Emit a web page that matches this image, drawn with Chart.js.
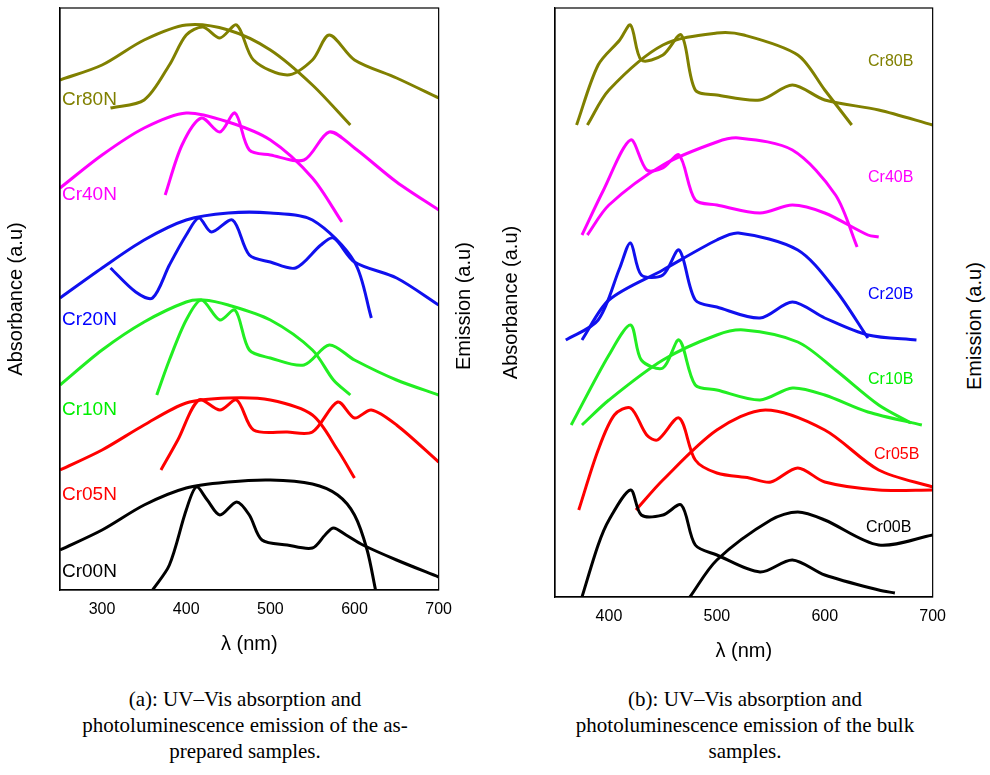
<!DOCTYPE html>
<html>
<head>
<meta charset="utf-8">
<script src="https://cdn.jsdelivr.net/npm/chart.js@4"></script>
<style>
  body { margin: 0; background: #fff; width: 990px; height: 775px; position: relative; font-family: Arial, "Liberation Sans", sans-serif; }
  canvas { position: absolute; }
  .lbl { position: absolute; font-size: 19px; }
  .lblb { position: absolute; font-size: 16px; }
  .ytitle { position: absolute; font-size: 20px; transform: rotate(-90deg); transform-origin: left top; white-space: nowrap; }
  .cap { position: absolute; font-family: "Liberation Serif", "Times New Roman", serif; font-size: 21px; text-align: center; line-height: 26px; }
</style>
</head>
<body>
<div style="position:absolute;left:0;top:0;width:456px;height:660px"><canvas id="left"></canvas></div>
<div style="position:absolute;left:495px;top:0;width:455px;height:667px"><canvas id="right"></canvas></div>

<div class="lbl" style="left:62px;top:88px;color:#808000">Cr80N</div>
<div class="lbl" style="left:62px;top:183px;color:#ff00ff">Cr40N</div>
<div class="lbl" style="left:62px;top:308px;color:#0000ff">Cr20N</div>
<div class="lbl" style="left:62px;top:398px;color:#00ee00">Cr10N</div>
<div class="lbl" style="left:62px;top:483px;color:#ff0000">Cr05N</div>
<div class="lbl" style="left:62px;top:560px;color:#000">Cr00N</div>

<div class="lblb" style="left:868px;top:52px;color:#808000">Cr80B</div>
<div class="lblb" style="left:868px;top:168px;color:#ff00ff">Cr40B</div>
<div class="lblb" style="left:868px;top:285px;color:#0000ff">Cr20B</div>
<div class="lblb" style="left:868px;top:370px;color:#00ee00">Cr10B</div>
<div class="lblb" style="left:874px;top:445px;color:#ff0000">Cr05B</div>
<div class="lblb" style="left:866px;top:518px;color:#000">Cr00B</div>

<div class="ytitle" style="left:452px;top:370px">Emission (a.u)</div>
<div class="ytitle" style="left:963px;top:390px">Emission (a.u)</div>

<div class="cap" style="left:20px;top:686px;width:450px">(a): UV–Vis absorption and<br>photoluminescence emission of the as-<br>prepared samples.</div>
<div class="cap" style="left:520px;top:686px;width:450px">(b): UV–Vis absorption and<br>photoluminescence emission of the bulk<br>samples.</div>

<script>
// ---- panel (a): as-prepared, [nm, a.u.] ----
const cr00nAbs = [[250,40],[300,60],[350,85],[400,102],[450,108],[500,110],[550,106],[580,95],[600,75],[615,40],[625,0]];
const cr00nEm  = [[360,0],[380,25],[400,80],[412,103],[425,90],[440,75],[460,88],[475,75],[490,50],[520,45],[550,42],[565,55],[575,62],[590,55],[610,45],[650,30],[700,13]];
const cr05nAbs = [[250,120],[300,140],[350,165],[400,187],[450,192],[500,190],[550,175],[580,140],[600,112]];
const cr05nEm  = [[370,120],[390,150],[415,190],[440,180],[460,190],[480,160],[520,158],[550,158],[580,188],[600,172],[620,180],[650,165],[700,128]];
const cr10nAbs = [[250,205],[300,240],[350,268],[400,288],[420,290],[450,285],[500,270],[550,240],[575,210],[595,195]];
const cr10nEm  = [[365,195],[380,230],[400,270],[418,290],[440,270],[458,280],[475,240],[500,232],[540,225],[570,245],[600,230],[650,210],[700,195]];
const cr20nAbs = [[250,292],[300,322],[350,350],[400,370],[450,377],[500,377],[550,370],[600,328],[620,272]];
const cr20nEm  = [[310,322],[340,298],[360,292],[380,325],[400,355],[415,372],[430,358],[455,370],[475,335],[500,328],[530,322],[560,345],[575,352],[600,328],[650,312],[700,285]];
const cr40nAbs = [[250,402],[300,435],[350,462],[400,477],[450,468],[500,450],[550,412],[585,368]];
const cr40nEm  = [[375,395],[395,445],[418,472],[440,458],[458,477],[475,440],[500,435],[540,430],[570,458],[600,442],[650,408],[700,380]];
const cr80nAbs = [[250,510],[300,525],[350,550],[400,565],[450,560],[500,540],[550,505],[595,465]];
const cr80nEm  = [[310,482],[350,490],[380,525],[400,555],[420,563],[440,552],[460,565],[480,530],[520,515],[550,530],[570,555],[600,530],[650,512],[700,492]];

// ---- panel (b): bulk, [nm, a.u.] ----
const cr00bAbs = [[375,0],[390,52],[400,77],[420,107],[430,82],[450,82],[467,92],[480,52],[500,42],[540,25],[570,37],[600,22],[650,7],[665,4]];
const cr00bEm  = [[475,0],[500,37],[550,77],[575,85],[600,77],[650,52],[700,62]];
const cr05bAbs = [[372,87],[390,147],[405,182],[420,189],[435,162],[445,157],[465,179],[480,137],[500,124],[530,119],[550,115],[575,129],[600,115],[650,107],[700,107]];
const cr05bEm  = [[425,87],[450,117],[500,167],[545,187],[600,167],[650,127],[700,110]];
const cr10bAbs = [[365,172],[400,242],[420,272],[430,237],[450,229],[465,257],[480,212],[500,207],[540,197],[570,209],[600,202],[640,185],[690,172]];
const cr10bEm  = [[375,172],[400,197],[450,237],[500,262],[525,267],[575,255],[610,227],[650,192],[680,174]];
const cr20bAbs = [[360,257],[390,277],[410,329],[420,354],[430,322],[450,322],[465,347],[480,297],[500,290],[540,279],[570,295],[600,279],[640,262],[685,257]];
const cr20bEm  = [[375,257],[400,297],[450,327],[500,357],[520,364],[575,347],[610,307],[640,259]];
const cr40bAbs = [[375,362],[395,407],[420,457],[435,427],[450,429],[465,442],[480,397],[500,392],[540,384],[570,392],[600,384],[640,362],[650,360]];
const cr40bEm  = [[380,362],[400,392],[450,432],[500,455],[520,459],[570,447],[610,402],[630,350]];
const cr80bAbs = [[370,472],[390,532],[410,557],[420,572],[430,537],[450,542],[467,562],[480,507],[500,502],[540,497],[570,512],[600,497],[650,487],[700,472]];
const cr80bEm  = [[380,472],[400,507],[450,552],[500,564],[525,562],[575,542],[600,507],[625,472]];

const colors = { c00: '#000000', c05: '#ff0000', c10: '#22ee22', c20: '#1010ee', c40: '#ff00ff', c80: '#808000' };

const ds = (pts, color) => ({
    data: pts.map(p => ({ x: p[0], y: p[1] })),
    borderColor: color, borderWidth: 3, pointRadius: 0, tension: 0.3, fill: false
});

const frame = {
    id: 'frame',
    afterDraw(chart) {
        const { ctx, chartArea: a } = chart;
        ctx.save();
        ctx.strokeStyle = '#000';
        ctx.lineWidth = 1.2;
        ctx.strokeRect(a.left, a.top, a.right - a.left, a.bottom - a.top);
        ctx.restore();
    }
};

const makeChart = (id, sets, xmin, xticks, ymax, yTitle) => new Chart(document.getElementById(id), {
    type: 'line',
    data: { datasets: sets },
    options: {
        responsive: true, maintainAspectRatio: false, animation: false,
        layout: { padding: { top: 8, right: 0, left: 0, bottom: 0 } },
        plugins: { legend: { display: false }, tooltip: { enabled: false } },
        scales: {
            x: {
                type: 'linear', min: xmin, max: 700,
                afterBuildTicks: s => { s.ticks = xticks.map(v => ({ value: v })); },
                afterFit: s => { s.height = 70; },
                grid: { display: false, drawTicks: true, tickLength: 6, color: '#000' },
                border: { color: '#000', width: 1.2 },
                ticks: { color: '#000', font: { size: 16, family: 'Arial' }, padding: 4 },
                title: { display: true, text: 'λ (nm)', color: '#000', font: { size: 20, family: 'Arial' }, padding: { top: 6 } }
            },
            y: {
                type: 'linear', min: 0, max: ymax,
                afterFit: s => { s.width = 60; },
                grid: { display: false },
                border: { color: '#000', width: 1.2 },
                ticks: { display: false },
                title: { display: true, text: yTitle, color: '#000', font: { size: 20, family: 'Arial' } }
            }
        }
    },
    plugins: [frame]
});

makeChart('left', [
    ds(cr00nAbs, colors.c00), ds(cr00nEm, colors.c00),
    ds(cr05nAbs, colors.c05), ds(cr05nEm, colors.c05),
    ds(cr10nAbs, colors.c10), ds(cr10nEm, colors.c10),
    ds(cr20nAbs, colors.c20), ds(cr20nEm, colors.c20),
    ds(cr40nAbs, colors.c40), ds(cr40nEm, colors.c40),
    ds(cr80nAbs, colors.c80), ds(cr80nEm, colors.c80)
], 250, [300, 400, 500, 600, 700], 582, 'Absorbance (a.u)');

makeChart('right', [
    ds(cr00bAbs, colors.c00), ds(cr00bEm, colors.c00),
    ds(cr05bAbs, colors.c05), ds(cr05bEm, colors.c05),
    ds(cr10bAbs, colors.c10), ds(cr10bEm, colors.c10),
    ds(cr20bAbs, colors.c20), ds(cr20bEm, colors.c20),
    ds(cr40bAbs, colors.c40), ds(cr40bEm, colors.c40),
    ds(cr80bAbs, colors.c80), ds(cr80bEm, colors.c80)
], 350, [400, 500, 600, 700], 589, 'Absorbance (a.u)');
</script>
</body>
</html>
